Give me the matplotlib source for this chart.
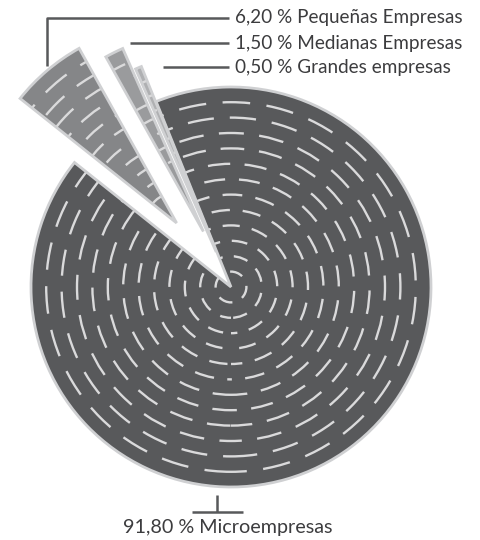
import matplotlib
matplotlib.use("Agg")
import matplotlib.pyplot as plt
from matplotlib.patches import Circle, Wedge

# Company size distribution
categories = ["Microempresas", "Pequeñas Empresas", "Medianas Empresas", "Grandes empresas"]
shares = [91.80, 6.20, 1.50, 0.50]
labels = ["91,80 % Microempresas", "6,20 % Pequeñas Empresas",
          "1,50 % Medianas Empresas", "0,50 % Grandes empresas"]

colors = {"Microempresas": "#58595b", "Pequeñas Empresas": "#858688",
          "Medianas Empresas": "#9a9b9d", "Grandes empresas": "#afb0b2"}
explode = {"Microempresas": 0.0, "Pequeñas Empresas": 0.42,
           "Medianas Empresas": 0.31, "Grandes empresas": 0.19}

# counter-clockwise drawing order: the big slice first, then the small ones
order = ["Microempresas", "Grandes empresas", "Medianas Empresas", "Pequeñas Empresas"]
vals = [shares[categories.index(c)] for c in order]

W, H, DPI = 480, 540, 100
PX = 200.0  # pixels per unit radius
cx, cy = 231, 287

fig = plt.figure(figsize=(W / DPI, H / DPI), dpi=DPI)
ax = fig.add_axes([0, 0, 1, 1])

start = 141.5
wedges, _ = ax.pie(vals, explode=[explode[c] for c in order],
                   colors=[colors[c] for c in order], startangle=start,
                   counterclock=True, radius=1.0,
                   wedgeprops=dict(edgecolor="none", linewidth=0))

ax.set_xlim(-cx / PX, (W - cx) / PX)
ax.set_ylim((cy - H) / PX, cy / PX)
ax.set_aspect("equal")
ax.axis("off")

ring_step = 0.077
edge_col = "#cfd0d2"
dash_col = "#dadadb"
for i, w in enumerate(wedges):
    w.set_zorder(1)
    wx, wy = w.center
    for k in range(1, 13):
        r = k * ring_step
        rpx = r * PX
        on = (7 + 0.05 * rpx) * 0.72
        off = (6 + 0.02 * rpx) * 0.72
        ring = Circle((wx, wy), r, fill=False, ec=dash_col, lw=1.7,
                      ls=((k * 5 + i * 3) % 11, (on, off)), zorder=2,
                      capstyle="butt")
        ax.add_patch(ring)
        ring.set_clip_path(w)
    outline = Wedge((wx, wy), w.r, w.theta1, w.theta2, fill=False,
                    ec=edge_col, lw=2.0, zorder=3, joinstyle="miter")
    ax.add_patch(outline)


def px(x, y):
    return ((x - cx) / PX, (cy - y) / PX)


line_kw = dict(color="#58595b", lw=1.8, solid_capstyle="butt", zorder=4)
text_kw = dict(family=["Lato", "DejaVu Sans"], color="#3c3c3e", zorder=5)

# leaders for the small slices
leaders = {
    "Pequeñas Empresas": [(47, 66), (47, 18), (229, 18)],
    "Medianas Empresas": [(130, 43), (229, 43)],
    "Grandes empresas": [(163, 67), (229, 67)],
}
for cat, pts in leaders.items():
    xs, ys = zip(*[px(*p) for p in pts])
    ax.plot(xs, ys, **line_kw)
    tx, ty = px(235, pts[-1][1])
    ax.text(tx, ty, labels[categories.index(cat)], ha="left", va="center",
            fontsize=13.6, **text_kw)

# leader for the large slice
xs, ys = zip(*[px(217, 495), px(217, 512)])
ax.plot(xs, ys, **line_kw)
xs, ys = zip(*[px(192, 512), px(243, 512)])
ax.plot(xs, ys, **line_kw)
tx, ty = px(228, 527)
ax.text(tx, ty, labels[0], ha="center", va="center", fontsize=14.2, **text_kw)

fig.savefig("out.png", dpi=DPI, facecolor="white")
